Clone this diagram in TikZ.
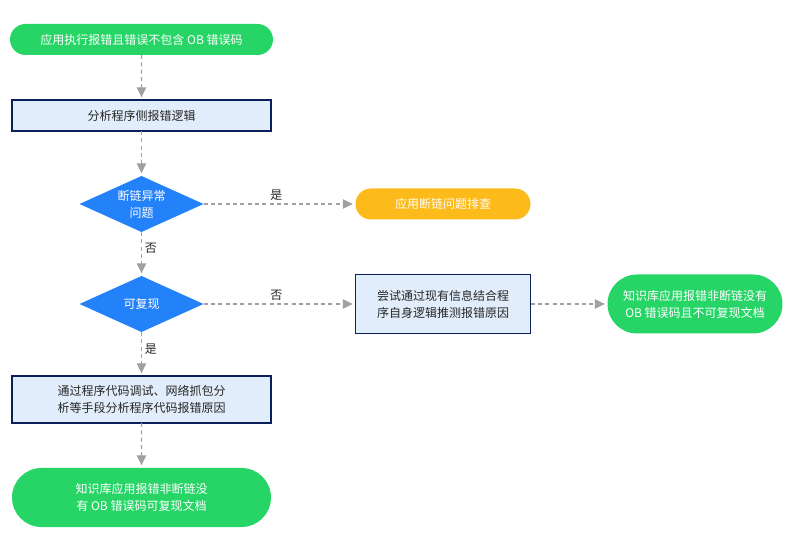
\documentclass[tikz,border=0pt]{standalone}
\usepackage{fontspec}
\setmainfont{Noto Sans CJK SC}
\usetikzlibrary{positioning,arrows.meta,shapes}
\definecolor{okgreen}{HTML}{27D567}
\definecolor{warnorange}{HTML}{FDBA1B}
\definecolor{decblue}{HTML}{2381FA}
\definecolor{boxfill}{HTML}{E2EDFB}
\definecolor{boxline}{HTML}{0B1F5B}
\definecolor{arrowgray}{HTML}{A0A0A0}
\definecolor{textdark}{HTML}{262626}

\begin{document}
\begin{tikzpicture}[
  x=0.75pt, y=-0.75pt,
  font=\fontsize{9pt}{12.75pt}\selectfont,
  box/.style={draw=boxline, fill=boxfill, line width=0.8pt, align=center, text=textdark, inner sep=0pt, outer sep=0pt},
  pill/.style={rounded rectangle, fill=okgreen, text=white, align=center, inner sep=0pt, outer sep=0pt},
  decision/.style={diamond, fill=decblue, text=white, align=center, shape aspect=2.2, inner sep=0pt, outer sep=0pt, minimum width=93pt, minimum height=42pt},
  arrow/.style={draw=arrowgray, line width=1pt, dash pattern=on 3pt off 2.5pt, -{Triangle[length=7.5pt,width=7pt]}, shorten >=2pt},
  lbl/.style={text=textdark, inner sep=2pt}
]
\useasboundingbox (0,0) rectangle (800,559);
\node[pill, minimum width=197.25pt, minimum height=23.25pt] (start) at (141.5,39.5) {应用执行报错且错误不包含 OB 错误码};
\node[box, below=33.75pt of start, minimum width=194.25pt, minimum height=23.25pt] (analyze) {分析程序侧报错逻辑};
\node[decision, below=33.75pt of analyze] (cutq) {断链异常\\问题};
\node[pill, fill=warnorange, right=114pt of cutq, minimum width=131.25pt, minimum height=23.25pt] (cutcheck) {应用断链问题排查};
\node[decision, below=33pt of cutq] (reproq) {可复现};
\node[box, right=114pt of reproq, minimum width=131.25pt, minimum height=44.25pt] (guess) {尝试通过现有信息结合程\\序自身逻辑推测报错原因};
\node[pill, right=57.75pt of guess, minimum width=131.25pt, minimum height=44.25pt] (nodoc) {知识库应用报错非断链没有\\OB 错误码且不可复现文档};
\node[box, below=33pt of reproq, minimum width=194.25pt, minimum height=35.25pt] (debug) {通过程序代码调试、网络抓包分\\析等手段分析程序代码报错原因};
\node[pill, below=33.75pt of debug, minimum width=194.25pt, minimum height=44.25pt] (hasdoc) {知识库应用报错非断链没\\有 OB 错误码可复现文档};
\draw[arrow] (start) -- (analyze);
\draw[arrow] (analyze) -- (cutq);
\draw[arrow] (cutq) -- node[lbl, above, pos=0.48] {是} (cutcheck);
\draw[arrow] (cutq) -- node[lbl, right, pos=0.36] {否} (reproq);
\draw[arrow] (reproq) -- node[lbl, above, pos=0.48] {否} (guess);
\draw[arrow] (reproq) -- node[lbl, right, pos=0.39] {是} (debug);
\draw[arrow] (guess) -- (nodoc);
\draw[arrow] (debug) -- (hasdoc);
\end{tikzpicture}
\end{document}
